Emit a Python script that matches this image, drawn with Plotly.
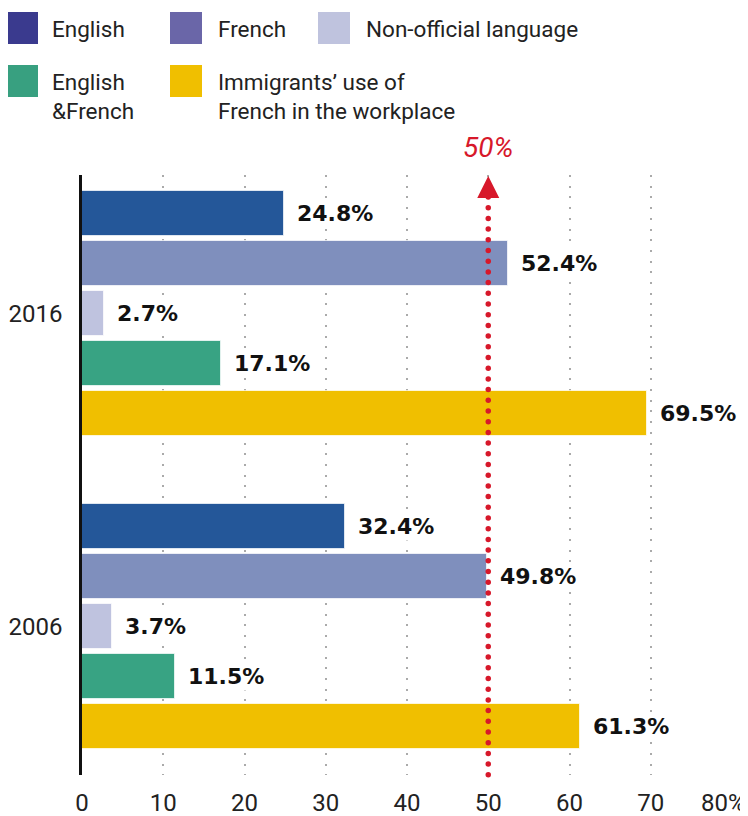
import numpy as np
import plotly.graph_objects as go

# ---- data ----
years = ["2016", "2006"]
series = ["English", "French", "Non-official language", "English &French",
          "Immigrants’ use of French in the workplace"]
values_2016 = [24.8, 52.4, 2.7, 17.1, 69.5]
values_2006 = [32.4, 49.8, 3.7, 11.5, 61.3]
x_ticks = [0, 10, 20, 30, 40, 50, 60, 70, 80]
x_ticktext = ["0", "10", "20", "30", "40", "50", "60", "70", ""]
threshold = 50

bar_colors = ["#245799", "#7f8fbd", "#bfc3df", "#38a383", "#f0bf00"]
legend_colors = ["#3a3a8e", "#6a66a8", "#bfc3de", "#38a080", "#f0bf00"]

# ---- layout geometry (page pixels; the page body adds an 8px margin) ----
PAGE_OFF = 8
W, H = 748 - PAGE_OFF, 816 - PAGE_OFF
L, R, T, B = 82, 732, 175, 775   # page pixel coords of plot area
group_offset = 6.26
y_min, y_max = -0.77, 11.23

def xp(px):
    return (px - L) / (R - L)

def yp(py):
    return (B - py) / (B - T)

fig = go.Figure()

all_vals = [values_2016, values_2006]
for gi, vals in enumerate(all_vals):
    ys = [gi * group_offset + i for i in range(len(vals))]
    fig.add_trace(go.Bar(
        x=vals, y=ys, orientation="h", width=0.9,
        marker=dict(color=bar_colors, line=dict(color="rgba(255,255,255,0.7)", width=1)),
        hoverinfo="skip", showlegend=False,
    ))
    for v, yy in zip(vals, ys):
        fig.add_annotation(
            x=v, y=yy, xref="x", yref="y", text=f"<b>{v}%</b>",
            showarrow=False, xanchor="left", yanchor="middle", xshift=11,
            font=dict(family="DejaVu Sans", size=22, color="#111111"),
            bgcolor="white", borderpad=1,
        )

# red dotted threshold line
dot_y = np.arange(-0.33, y_max + 0.01, 0.214)
fig.add_trace(go.Scatter(
    x=[threshold] * len(dot_y), y=dot_y, mode="markers",
    marker=dict(color="#d7182a", size=5.5), hoverinfo="skip", showlegend=False,
    cliponaxis=False,
))
fig.add_annotation(
    x=threshold, y=y_min, xref="x", yref="y", ax=0, ay=22, axref="pixel", ayref="pixel",
    text="", showarrow=True, arrowhead=2, arrowsize=2.2, arrowwidth=2,
    arrowcolor="#d7182a", standoff=1,
)
fig.add_annotation(
    x=threshold, y=y_min, xref="x", yref="y", text="50%", showarrow=False,
    yshift=28, xanchor="center", yanchor="middle",
    font=dict(family="Roboto", size=28, color="#d7182a", style="italic"),
)
# last tick label
fig.add_annotation(
    x=80, y=0, xref="x", yref="paper", text="80%", showarrow=False,
    xanchor="right", yanchor="middle", xshift=16, yshift=-28,
    font=dict(family="Roboto", size=24, color="#222222"),
)

# legend (drawn manually)
legend_items = [
    (8, 38, 12, 50, "English", 0),
    (170, 202, 12, 216, "French", 1),
    (318, 350, 12, 364, "Non-official language", 2),
    (8, 38, 65, 50, "English<br>&French", 3),
    (170, 202, 65, 216, "Immigrants’ use of<br>French in the workplace", 4),
]
for sx0, sx1, sy, tx, label, ci in legend_items:
    fig.add_shape(type="rect", xref="paper", yref="paper",
                  x0=xp(sx0), x1=xp(sx1), y0=yp(sy), y1=yp(sy + 32),
                  fillcolor=legend_colors[ci], line=dict(width=0))
    fig.add_annotation(
        x=xp(tx), y=yp(sy + 2), xref="paper", yref="paper", text=label,
        showarrow=False, xanchor="left", yanchor="top", align="left",
        font=dict(family="Roboto", size=22.5, color="#222222"),
    )

fig.update_layout(
    width=W, height=H,
    margin=dict(l=L - PAGE_OFF, r=748 - R, t=T - PAGE_OFF, b=816 - B),
    paper_bgcolor="white", plot_bgcolor="white", bargap=0, showlegend=False,
    xaxis=dict(
        range=[0, 80], tickvals=x_ticks, ticktext=x_ticktext, automargin=False,
        showgrid=True, gridcolor="#aaaaaa", gridwidth=2, griddash="2px,8.7px",
        zeroline=False, showline=False, ticks="", ticklabelstandoff=11,
        tickfont=dict(family="Roboto", size=24, color="#222222"),
        fixedrange=True,
    ),
    yaxis=dict(
        range=[y_max, y_min], tickvals=[2, 2 + group_offset], ticktext=years,
        automargin=False,
        showgrid=False, zeroline=False, showline=True, linecolor="#111111", linewidth=2.5,
        ticks="", ticklabelstandoff=12,
        tickfont=dict(family="Roboto", size=24, color="#222222"),
        fixedrange=True,
    ),
)

fig.write_html("out.html")
